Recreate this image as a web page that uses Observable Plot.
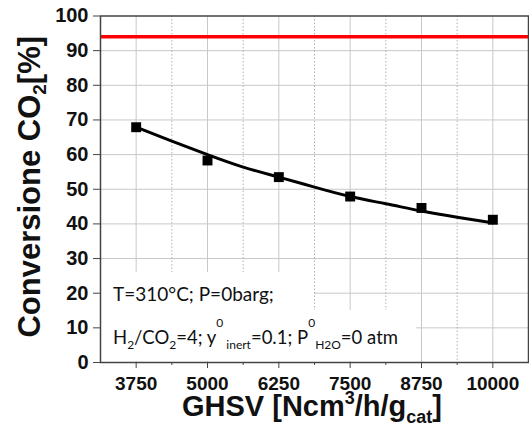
<!DOCTYPE html>
<html>
<head>
<meta charset="utf-8">
<script src="https://cdn.jsdelivr.net/npm/d3@7"></script>
<script src="https://cdn.jsdelivr.net/npm/@observablehq/plot@0.6"></script>
<style>
  html, body { margin: 0; padding: 0; background: #fff; }
  svg { display: block; }
</style>
</head>
<body>
<div id="chart"></div>
<script>
// Measured CO2 conversion vs. space velocity (square markers)
const ghsv = [3750, 5000, 6250, 7500, 8750, 10000];
const conversion = [67.9, 58.3, 53.5, 47.9, 44.6, 41.2];

// Model curve through the measurements
const fitGhsv = [3750, 4375, 5000, 5625, 6250, 6875, 7500, 8125, 8750, 9375, 10000];
const fitConversion = [67.9, 63.9, 60.0, 56.4, 53.5, 50.6, 47.9, 45.8, 43.7, 41.9, 40.3];

// Equilibrium conversion (red line)
const equilibrium = [94];

// Axis ticks
const xTicks = [3750, 5000, 6250, 7500, 8750, 10000];
const xMinorTicks = [4375, 5625, 6875, 8125, 9375];
const yTicks = [0, 10, 20, 30, 40, 50, 60, 70, 80, 90, 100];
const yGrid = [10, 20, 30, 40, 50, 60, 70, 80, 90];

const points = ghsv.map((x, i) => ({x, y: conversion[i]}));
const fit = fitGhsv.map((x, i) => ({x, y: fitConversion[i]}));

const W = 529, H = 441;
const plot = Plot.plot({
  width: W,
  height: H,
  marginLeft: 100,
  marginRight: 1,
  marginTop: 15.5,
  marginBottom: 79,
  style: {fontFamily: "'Liberation Sans', Arial, sans-serif", fontSize: "19px", fontWeight: "bold", color: "#111", background: "#fff"},
  x: {domain: [3125, 10625], axis: null},
  y: {domain: [0, 100], axis: null},
  marks: [
    Plot.gridY(yGrid, {stroke: "#c8c8c8", strokeOpacity: 1, strokeWidth: 1}),
    Plot.gridX(xTicks, {stroke: "#c8c8c8", strokeOpacity: 1, strokeWidth: 1}),
    Plot.gridX(xMinorTicks, {stroke: "#b0b0b0", strokeOpacity: 1, strokeWidth: 1, strokeDasharray: "1.5,2"}),
    Plot.ruleY(equilibrium, {stroke: "#ff0000", strokeWidth: 3.5}),
    Plot.line(fit, {x: "x", y: "y", curve: "natural", stroke: "#000", strokeWidth: 3}),
    Plot.dot(points, {x: "x", y: "y", symbol: "square", r: 5.6, fill: "#000", stroke: "none"}),
    Plot.axisY(yTicks, {anchor: "left", label: null, tickSize: 7, tickPadding: 5, fontSize: 20, stroke: "#444", tickFormat: d => String(d)}),
    Plot.axisX(xTicks, {anchor: "bottom", label: null, tickSize: 6, tickPadding: 8, stroke: "#444", tickFormat: d => String(d)}),
    Plot.axisX(xMinorTicks, {anchor: "bottom", label: null, tickSize: 3, stroke: "#444", text: null}),
    Plot.frame({stroke: "#444", strokeWidth: 1.5})
  ]
});

document.getElementById("chart").appendChild(plot);

const svg = d3.select(plot);
const xs = plot.scale("x"), ys = plot.scale("y");
const left = xs.apply(3125), bottom = ys.apply(0);

// Operating-conditions note in the lower-left corner, on white boxes over the grid
const note = svg.insert("g", "g[aria-label='rule']");
note.append("rect").attr("x", left + 1).attr("y", 272).attr("width", 313 - left).attr("height", 39).attr("fill", "#fff");
note.append("rect").attr("x", left + 1).attr("y", 310).attr("width", 415 - left).attr("height", bottom - 310 - 1).attr("fill", "#fff");

const noteFont = "Lato, 'Open Sans', sans-serif";
svg.append("text")
  .attr("x", 113).attr("y", 301)
  .attr("text-anchor", "start")
  .attr("font-family", noteFont).attr("font-size", 19).attr("font-weight", "normal").attr("fill", "#111")
  .text("T=310°C; P=0barg;");

const t2 = svg.append("text")
  .attr("x", 113).attr("y", 344)
  .attr("text-anchor", "start")
  .attr("font-family", noteFont).attr("font-size", 18.5).attr("font-weight", "normal").attr("fill", "#111");
const parts = [
  ["H", 0], ["2", 1], ["/CO", 0], ["2", 1], ["=4; y", 0], ["0", 2], [" inert", 1],
  ["=0.1; P", 0], ["0", 2], ["H2O", 1], ["=0 atm", 0]
];
let shift = 0;
for (const [s, kind] of parts) {
  const target = kind === 1 ? 5 : kind === 2 ? -17 : 0;
  t2.append("tspan")
    .attr("dy", target - shift)
    .attr("font-size", kind ? 12 : 18.5)
    .text(s);
  shift = target;
}

// Axis titles
const xt = svg.append("text")
  .attr("x", 312).attr("y", 416)
  .attr("text-anchor", "middle")
  .attr("font-size", 29).attr("font-weight", "bold").attr("fill", "#111");
xt.append("tspan").text("GHSV [Ncm");
xt.append("tspan").attr("font-size", 18).attr("dy", -12).text("3");
xt.append("tspan").attr("dy", 12).text("/h/g");
xt.append("tspan").attr("font-size", 18).attr("dy", 7).text("cat");
xt.append("tspan").attr("dy", -7).text("]");

const yt = svg.append("text")
  .attr("transform", `translate(40,${(ys.apply(0) + ys.apply(100)) / 2 - 2}) rotate(-90)`)
  .attr("text-anchor", "middle")
  .attr("font-size", 31).attr("font-weight", "bold").attr("fill", "#111");
yt.append("tspan").text("Conversione CO");
yt.append("tspan").attr("font-size", 19).attr("dy", 6).text("2");
yt.append("tspan").attr("dy", -6).text("[%]");
</script>
</body>
</html>
